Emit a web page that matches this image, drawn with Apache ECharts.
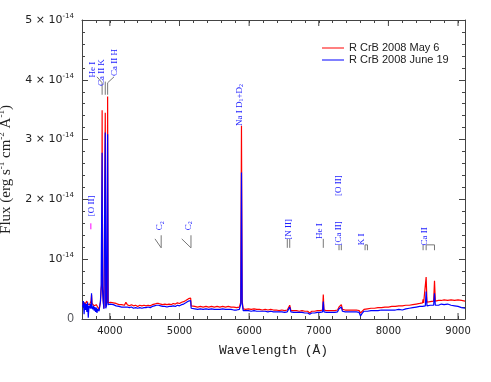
<!DOCTYPE html>
<html><head><meta charset="utf-8">
<script src="https://cdn.jsdelivr.net/npm/echarts@6.0.0/dist/echarts.min.js"></script>
<style>html,body{margin:0;padding:0;background:#fff}#c{width:491px;height:382px}</style>
</head><body><div id="c"></div>
<script>
// Wavelength grid (Å)
const wavelength = [3610,3620,3630,3640,3650,3660,3670,3680,3690,3700,3710,3720,3730,3737,3744,3755,3765,3775,3785,3795,3805,3815,3825,3835,3845,3855,3865,3875,3884,3889,3894,3905,3915,3925,3934,3941,3952,3962,3968,3975,3990,4010,4030,4050,4070,4090,4110,4130,4150,4170,4190,4210,4230,4250,4280,4310,4340,4370,4400,4430,4460,4490,4520,4550,4580,4610,4640,4670,4700,4730,4760,4790,4820,4850,4880,4910,4940,4970,5000,5030,5060,5090,5110,5130,5150,5160,5168,5190,5220,5260,5300,5340,5380,5420,5460,5500,5540,5580,5620,5660,5700,5740,5780,5820,5860,5880,5890,5900,5915,5950,5990,6030,6070,6110,6150,6190,6230,6270,6310,6350,6390,6430,6470,6510,6548,6563,6583,6600,6640,6680,6720,6760,6800,6840,6870,6900,6940,6980,7020,7055,7065,7075,7110,7150,7190,7230,7270,7291,7310,7324,7340,7380,7420,7460,7500,7540,7580,7600,7620,7650,7700,7750,7800,7850,7900,7950,8000,8050,8100,8150,8200,8250,8300,8350,8400,8450,8490,8498,8506,8530,8542,8554,8600,8650,8662,8674,8720,8760,8800,8850,8900,8950,9000,9050,9100];
// Flux in units of 1e-14 erg s-1 cm-2 Å-1
const fluxMay = [.26,.22,.28,.24,.27,.22,.30,.25,.23,.27,.24,.26,.30,.40,.26,.24,.27,.22,.25,.21,.24,.22,.20,.17,.16,.18,.28,.50,.60,3.49,.55,.30,.18,.20,3.45,.22,.25,.28,3.72,.27,.30,.28,.31,.27,.29,.26,.27,.24,.26,.24,.25,.23,.28,.24,.22,.24,.22,.23,.21,.23,.22,.23,.22,.23,.22,.24,.25,.26,.26,.25,.24,.25,.24,.25,.24,.26,.25,.27,.26,.28,.29,.31,.32,.34,.37,.35,.22,.20,.21,.20,.21,.20,.21,.20,.21,.20,.21,.20,.21,.20,.21,.20,.20,.19,.20,.28,3.23,.30,.17,.16,.17,.16,.17,.16,.16,.15,.16,.15,.16,.15,.15,.14,.15,.14,.15,.17,.23,.14,.14,.14,.13,.14,.13,.13,.10,.13,.13,.14,.14,.15,.41,.15,.14,.14,.14,.14,.15,.20,.18,.24,.16,.15,.15,.15,.15,.15,.14,.10,.13,.16,.17,.18,.18,.19,.19,.20,.20,.21,.21,.22,.22,.23,.23,.24,.25,.26,.27,.33,.27,.28,.70,.28,.29,.30,.64,.30,.31,.31,.32,.31,.32,.31,.32,.31,.30];
const fluxJune = [.20,.30,.08,.27,.15,.25,.12,.28,.02,.22,.18,.25,.17,.43,.20,.16,.22,.14,.20,.12,.19,.10,.17,.14,.13,.16,.30,.55,.58,2.78,.50,.28,.17,.19,3.12,.18,.22,.25,3.09,.24,.27,.25,.27,.24,.26,.22,.23,.21,.22,.20,.21,.20,.23,.20,.19,.20,.18,.19,.18,.19,.18,.19,.19,.20,.19,.21,.22,.23,.23,.22,.21,.21,.20,.21,.21,.22,.21,.23,.22,.24,.25,.27,.28,.30,.32,.31,.18,.17,.17,.16,.17,.16,.17,.16,.17,.16,.16,.16,.17,.16,.16,.16,.15,.15,.16,.25,2.45,.26,.14,.14,.14,.13,.14,.13,.13,.13,.13,.12,.13,.12,.12,.12,.12,.11,.12,.13,.20,.12,.11,.11,.11,.11,.10,.10,.08,.10,.10,.11,.11,.12,.29,.12,.11,.11,.11,.11,.12,.17,.15,.20,.13,.12,.12,.12,.12,.12,.11,.05,.09,.13,.13,.14,.14,.14,.15,.15,.15,.15,.15,.16,.15,.17,.18,.19,.20,.21,.21,.24,.22,.22,.46,.22,.23,.23,.43,.23,.23,.25,.24,.25,.23,.22,.21,.19,.18];
const seriesNames = ['R CrB 2008 May 6', 'R CrB 2008 June 19'];
const xTickLabels = [4000, 5000, 6000, 7000, 8000, 9000];
const yTickLabels = [0, 1, 2, 3, 4, 5];

// Line identifications: label text, label centre (Å, flux)
const idLabels = [
  {t:'[O II]', x:3744, y:1.89},
  {t:'He I', x:3754, y:4.17},
  {t:'Ca II K', x:3887, y:4.12},
  {t:'Ca II H', x:4074, y:4.29},
  {t:'Na I D{b|1}+D{b|2}', x:5862, y:3.58},
  {t:'C{b|2}', x:4720, y:1.56},
  {t:'C{b|2}', x:5126, y:1.56},
  {t:'[N II]', x:6565, y:1.50},
  {t:'He I', x:7018, y:1.47},
  {t:'[Ca II]', x:7280, y:1.43},
  {t:'[O II]', x:7290, y:2.23},
  {t:'K I', x:7616, y:1.33},
  {t:'Ca II', x:8515, y:1.38}
];
// Identification tick marks (Å, flux) polylines
const idMarks = [
  {c:'#ff00ff', p:[[3727,1.50],[3727,1.60]]},
  {p:[[3815,4.05],[3889,3.95],[3889,3.75]]},
  {p:[[3934,3.97],[3934,3.75]]},
  {p:[[4060,4.05],[3968,3.95],[3968,3.75]]},
  {p:[[4648,1.34],[4737,1.19],[4737,1.40]]},
  {p:[[5032,1.34],[5165,1.19],[5165,1.40]]},
  {p:[[6548,1.34],[6548,1.19]]},{p:[[6583,1.34],[6583,1.19]]},
  {p:[[7065,1.34],[7065,1.19]]},
  {p:[[7291,1.24],[7291,1.15]]},{p:[[7324,1.24],[7324,1.15]]},
  {p:[[7665,1.15],[7665,1.24],[7699,1.24],[7699,1.15]]},
  {p:[[8498,1.24],[8498,1.15]]},
  {p:[[8542,1.15],[8542,1.24],[8662,1.24],[8662,1.15]]}
];

const majorX = xTickLabels;
const AX = '#444';
const chart = echarts.init(document.getElementById('c'), null, {renderer:'canvas'});
const pairs = (f) => wavelength.map((w,i)=>[w,f[i]]);

const yFmt = v => v===0 ? '0' : (v===1 ? '{m|10}{s|-14}' : '{m|'+v+' × 10}{s|-14}');
const yRich = {m:{fontFamily:'DejaVu Sans',fontSize:11,color:'#222'}, s:{fontFamily:'DejaVu Sans',fontSize:7,color:'#222',padding:[0,0,8,0]}};

chart.setOption({
  animation:false,
  grid:{left:82,right:26,top:20,bottom:63, containLabel:false, outerBoundsMode:'none'},
  legend:{data:seriesNames, orient:'vertical', left:317, top:37, itemWidth:22, itemHeight:1, icon:'rect', itemGap:0,
    textStyle:{fontFamily:'Liberation Sans', fontSize:11, color:'#222', lineHeight:12}},
  xAxis:[
    {type:'value', min:3600, max:9100, interval:200, position:'bottom',
     name:'Wavelength (Å)', nameLocation:'middle', nameGap:25,
     nameTextStyle:{fontFamily:'Liberation Mono', fontSize:13, color:'#222'},
     axisLine:{onZero:false, lineStyle:{color:AX}}, axisTick:{inside:true, length:3, lineStyle:{color:AX}},
     axisLabel:{margin:7, fontFamily:'DejaVu Sans', fontSize:10, color:'#222', formatter:v => xTickLabels.includes(v) ? String(v) : ''},
     splitLine:{show:false}},
    {type:'value', min:3600, max:9100, interval:200, position:'top',
     axisLine:{onZero:false, lineStyle:{color:AX}}, axisTick:{inside:true, length:3, lineStyle:{color:AX}},
     axisLabel:{show:false}, splitLine:{show:false}}
  ],
  yAxis:[
    {type:'value', min:0, max:5, interval:1, position:'left',
     name:'{t|Flux (erg s}{s|-1}{t| cm}{s|-2}{t| Å}{s|-1}{t|)}', nameLocation:'middle', nameGap:67,
     nameTextStyle:{rich:{t:{fontFamily:'Liberation Serif',fontSize:15,color:'#222'}, s:{fontFamily:'Liberation Serif',fontSize:9,color:'#222',padding:[0,0,9,0]}}},
     axisLine:{onZero:false, lineStyle:{color:AX}}, axisTick:{inside:true, length:6, lineStyle:{color:AX}},
     minorTick:{show:true, splitNumber:5, length:3, lineStyle:{color:AX}},
     axisLabel:{margin:8, formatter:yFmt, rich:yRich},
     splitLine:{show:false}, minorSplitLine:{show:false}},
    {type:'value', min:0, max:5, interval:1, position:'right',
     axisLine:{onZero:false, lineStyle:{color:AX}}, axisTick:{inside:true, length:6, lineStyle:{color:AX}},
     minorTick:{show:true, splitNumber:5, length:3, lineStyle:{color:AX}},
     axisLabel:{show:false}, splitLine:{show:false}, minorSplitLine:{show:false}}
  ],
  series:[
    {name:seriesNames[0], type:'line', data:pairs(fluxMay), showSymbol:false, color:'#ff0000', lineStyle:{width:1.2, color:'#ff0000'}, z:2},
    {name:seriesNames[1], type:'line', data:pairs(fluxJune), showSymbol:false, color:'#0000ff', lineStyle:{width:1.2, color:'#0000ff'}, z:3},
    {type:'custom', clip:false, silent:true, z:4, data:majorX.map(v=>[v]),
     renderItem:(p, api)=>{
       const b = api.coord([api.value(0), 0]); const t = api.coord([api.value(0), 5]);
       return {type:'group', children:[
         {type:'line', shape:{x1:b[0],y1:b[1],x2:b[0],y2:b[1]-6}, style:{stroke:AX, lineWidth:1}},
         {type:'line', shape:{x1:t[0],y1:t[1],x2:t[0],y2:t[1]+6}, style:{stroke:AX, lineWidth:1}}
       ]};
     }},
    {type:'custom', clip:false, silent:true, z:5, data:idMarks.map((m,i)=>[m.p[0][0], m.p[0][1], i]),
     renderItem:(p, api)=>{
       const m = idMarks[p.dataIndex];
       return {type:'polyline', shape:{points:m.p.map(q=>api.coord(q))}, style:{stroke:m.c||'#777', lineWidth:1, fill:null}};
     }},
    {type:'custom', clip:false, silent:true, z:6, data:idLabels.map(l=>[l.x, l.y]),
     renderItem:(p, api)=>{
       const l = idLabels[p.dataIndex]; const c = api.coord([l.x, l.y]);
       return {type:'text', x:c[0], y:c[1], rotation:Math.PI/2,
         style:{text:l.t, x:0, y:0, align:'center', verticalAlign:'middle', fill:'#2020ff',
           font:'9px "Liberation Serif"',
           rich:{b:{fontSize:6, fill:'#2020ff', fontFamily:'Liberation Serif', padding:[4,0,0,0]}}}};
     }}
  ]
});
</script></body></html>
